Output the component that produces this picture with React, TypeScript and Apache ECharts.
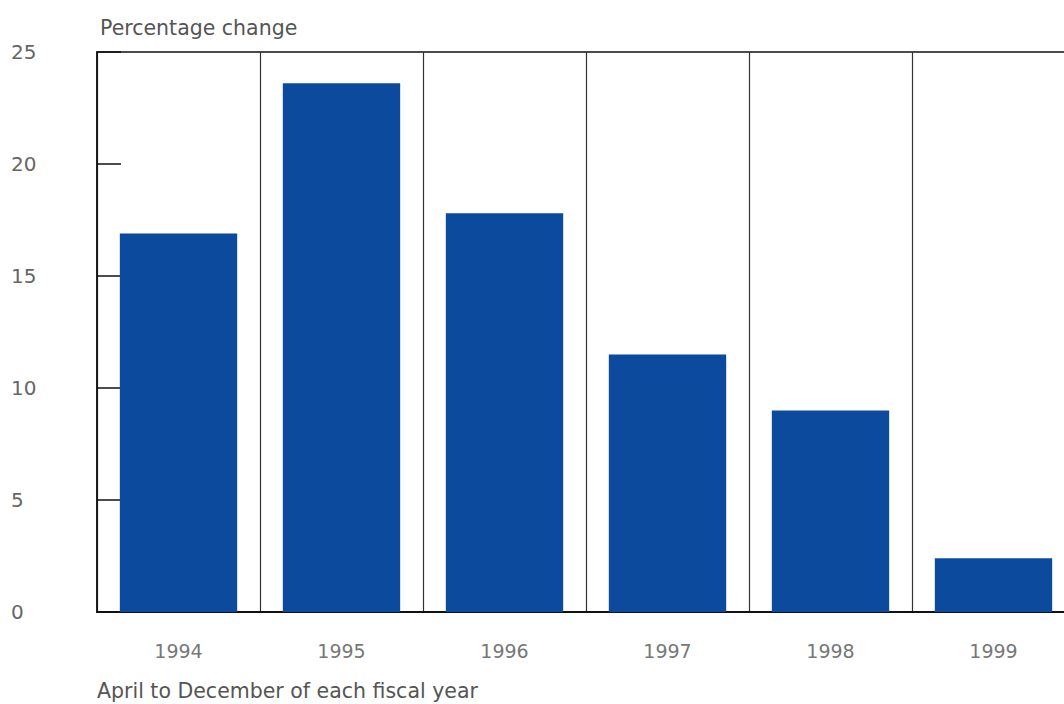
import React, { useEffect, useRef } from "react";
import * as echarts from "echarts";

const categories = ["1994", "1995", "1996", "1997", "1998", "1999"];
const values = [16.9, 23.6, 17.8, 11.5, 9.0, 2.4];
const yTicks = [0, 5, 10, 15, 20, 25];
const yTitle = "Percentage change";
const xNote = "April to December of each fiscal year";

export default function App() {
  const ref = useRef<HTMLDivElement>(null);
  useEffect(() => {
    document.body.style.margin = "0";
    document.documentElement.style.overflow = "hidden";
    document.body.style.overflow = "hidden";
    const chart = echarts.init(ref.current!, null, { renderer: "svg" });
    const font = "DejaVu Sans, Liberation Sans, sans-serif";
    chart.setOption({
      animation: false,
      backgroundColor: "#ffffff",
      grid: {
        left: 97,
        top: 52,
        right: 5,
        bottom: 92,
        show: true,
        borderColor: "#111",
        borderWidth: 1.5,
        backgroundColor: "transparent",
      },
      graphic: [
        {
          type: "text",
          left: 100,
          top: 17,
          style: { text: yTitle, fill: "#555", font: `20.5px ${font}` },
        },
        {
          type: "text",
          left: 97,
          top: 680,
          style: { text: xNote, fill: "#555", font: `20.5px ${font}` },
        },
      ],
      xAxis: {
        type: "category",
        data: categories,
        boundaryGap: true,
        axisLine: { show: true, lineStyle: { color: "#111", width: 2 } },
        axisTick: { show: false },
        axisLabel: {
          color: "#777",
          fontFamily: font,
          fontSize: 19,
          margin: 29,
        },
        splitLine: {
          show: true,
          lineStyle: { color: "#333", width: 1.2 },
        },
      },
      yAxis: {
        type: "value",
        min: yTicks[0],
        max: yTicks[yTicks.length - 1],
        interval: 5,
        axisLine: { show: true, lineStyle: { color: "#111", width: 1.5 } },
        axisTick: {
          show: true,
          inside: true,
          length: 24,
          lineStyle: { color: "#111", width: 1.5 },
        },
        axisLabel: {
          color: "#666",
          fontFamily: font,
          fontSize: 20,
          align: "left",
          margin: 86,
        },
        splitLine: { show: false },
      },
      series: [
        {
          type: "bar",
          data: values,
          barWidth: "72%",
          itemStyle: { color: "#0b4a9c" },
        },
      ],
    });
    return () => chart.dispose();
  }, []);
  return (
    <div
      ref={ref}
      style={{ position: "fixed", left: 0, top: 0, width: 1080, height: 704 }}
    />
  );
}
